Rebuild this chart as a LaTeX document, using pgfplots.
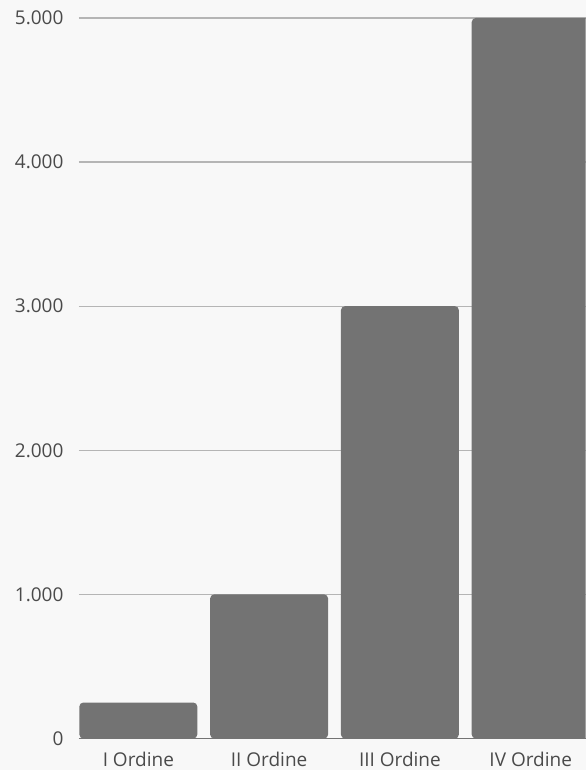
\documentclass[border=0pt]{standalone}
\usepackage{fontspec}
\setmainfont{Open Sans}
\usepackage{pgfplots}
\pgfplotsset{compat=1.18}
\usetikzlibrary{backgrounds}

\definecolor{bgcol}{HTML}{F8F8F8}
\definecolor{barcol}{HTML}{737373}
\definecolor{gridcol}{HTML}{B5B5B5}
\definecolor{txtcol}{HTML}{4A4A4A}

\begin{document}
\begin{tikzpicture}
\begin{axis}[
    name=ax,
    scale only axis,
    width=507pt, height=721pt,
    xmin=-0.454, xmax=3.42,
    ymin=0, ymax=5000,
    xtick=data,
    xticklabels={I Ordine, II Ordine, III Ordine, IV Ordine},
    ytick={0,1000,2000,3000,4000,5000},
    /pgf/number format/assume math mode=true,
    /pgf/number format/1000 sep={.},
    ymajorgrids,
    grid style={gridcol, line width=1.4pt},
    axis x line*=bottom,
    axis y line*=left,
    y axis line style={draw=none},
    x axis line style={draw=barcol, line width=1.3pt, -},
    major tick length=0pt,
    tick label style={font=\fontsize{19}{22}\selectfont, text=txtcol},
    yticklabel style={xshift=-12pt},
    xticklabel style={yshift=-10pt},
  ]
  \addplot[ybar, bar width=118pt, fill=barcol, draw=none, rounded corners=4pt]
    coordinates {(0,250) (1,1000) (2,3000) (3,5000)};
\end{axis}
\begin{pgfonlayer}{background}
  \fill[bgcol] ([xshift=-79pt,yshift=-31pt]ax.south west) rectangle ([yshift=18pt]ax.north east);
\end{pgfonlayer}
\end{tikzpicture}
\end{document}
